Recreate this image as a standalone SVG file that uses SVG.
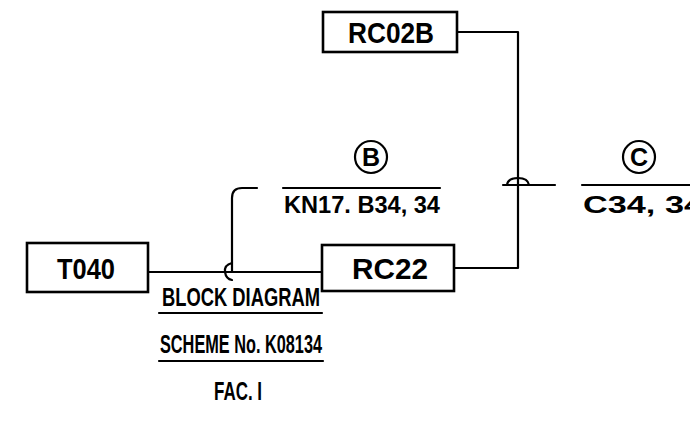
<svg xmlns="http://www.w3.org/2000/svg" width="690" height="429" viewBox="0 0 690 429">
<style>
.box{fill:#fff;stroke:#000;stroke-width:2.6}
.ln{fill:none;stroke:#000;stroke-width:2.2;stroke-linecap:round;stroke-linejoin:round}
.t{font-family:"Liberation Sans Narrow","Liberation Sans",sans-serif;font-weight:bold;fill:#000}
</style>
<rect width="690" height="429" fill="#fff"/>
<g id="connectors">
<path class="ln" d="M148 272 H322"/>
<path class="ln" d="M232 272 V198 Q232 188 242 188 H257"/>
<path class="ln" d="M232 263 Q224 265 225 272 Q226 279 232 280"/>
<path class="ln" d="M454 268 H518 V32 H457"/>
<path class="ln" d="M503 185 H555"/>
<path class="ln" d="M507 185 Q508 178 518 178 Q528 178 529 185" stroke-width="3"/>
<path class="ln" d="M283 188 H440"/>
<path class="ln" d="M582 185 H690"/>
</g>
<g id="RC02B">
<rect class="box" x="323" y="12" width="134" height="40"/>
<text class="t" x="391" y="43" font-size="30" text-anchor="middle" textLength="86" lengthAdjust="spacingAndGlyphs">RC02B</text>
</g>
<g id="T040">
<rect class="box" x="27" y="243" width="121" height="49"/>
<text class="t" x="86" y="279" font-size="30" text-anchor="middle" textLength="58" lengthAdjust="spacingAndGlyphs">T040</text>
</g>
<g id="RC22">
<rect class="box" x="322" y="245" width="132" height="46"/>
<text class="t" x="390" y="279" font-size="30" text-anchor="middle" textLength="76" lengthAdjust="spacingAndGlyphs">RC22</text>
</g>
<g id="labelB">
<circle cx="371" cy="157" r="16" fill="none" stroke="#000" stroke-width="2.2"/>
<text class="t" x="371" y="166" font-size="25" text-anchor="middle">B</text>
<text class="t" x="284" y="213" font-size="24" textLength="156" lengthAdjust="spacingAndGlyphs">KN17. B34, 34</text>
</g>
<g id="labelC">
<circle cx="639" cy="157" r="16" fill="none" stroke="#000" stroke-width="2.2"/>
<text class="t" x="639" y="166" font-size="25" text-anchor="middle">C</text>
<text class="t" x="583" y="213" font-size="24" textLength="120" lengthAdjust="spacingAndGlyphs">C34, 34</text>
</g>
<g id="title">
<text class="t" x="241" y="306" font-size="25" text-anchor="middle" textLength="158" lengthAdjust="spacingAndGlyphs">BLOCK DIAGRAM</text>
<path class="ln" d="M159 313 H322"/>
<text class="t" x="241" y="353" font-size="25" text-anchor="middle" textLength="162" lengthAdjust="spacingAndGlyphs">SCHEME No. K08134</text>
<path class="ln" d="M159 361 H323"/>
<text class="t" x="238" y="400" font-size="25" text-anchor="middle" textLength="48" lengthAdjust="spacingAndGlyphs">FAC. I</text>
</g>
</svg>
